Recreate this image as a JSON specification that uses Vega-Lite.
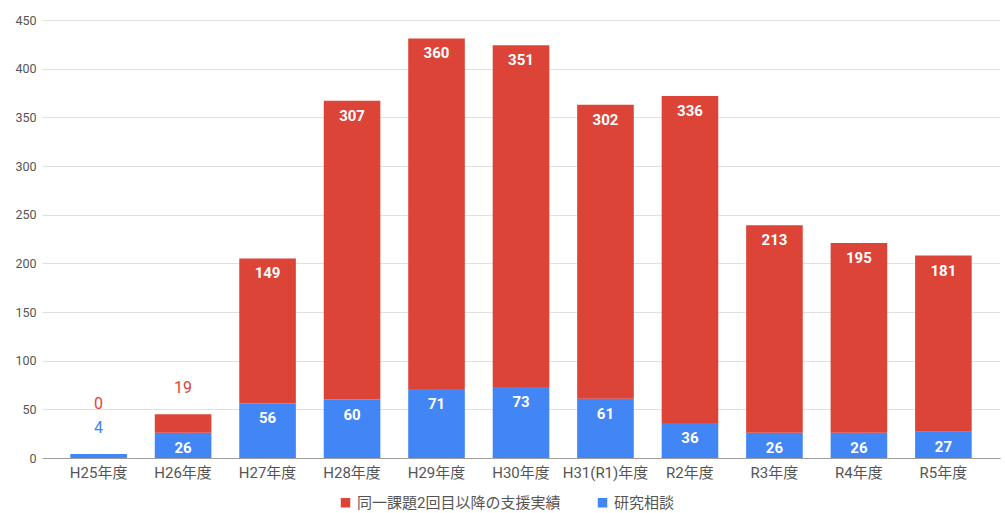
{
  "$schema": "https://vega.github.io/schema/vega-lite/v6.json",
  "width": 958,
  "height": 438,
  "autosize": {"type": "none"},
  "padding": {"left": 42, "top": 20, "right": 5, "bottom": 55},
  "background": "white",
  "config": {
    "font": "Roboto, 'Noto Sans CJK JP', sans-serif",
    "view": {"stroke": null}
  },
  "data": {
    "values": [
      {"year": "H25年度", "series": "研究相談", "value": 4},
      {"year": "H25年度", "series": "同一課題2回目以降の支援実績", "value": 0},
      {"year": "H26年度", "series": "研究相談", "value": 26},
      {"year": "H26年度", "series": "同一課題2回目以降の支援実績", "value": 19},
      {"year": "H27年度", "series": "研究相談", "value": 56},
      {"year": "H27年度", "series": "同一課題2回目以降の支援実績", "value": 149},
      {"year": "H28年度", "series": "研究相談", "value": 60},
      {"year": "H28年度", "series": "同一課題2回目以降の支援実績", "value": 307},
      {"year": "H29年度", "series": "研究相談", "value": 71},
      {"year": "H29年度", "series": "同一課題2回目以降の支援実績", "value": 360},
      {"year": "H30年度", "series": "研究相談", "value": 73},
      {"year": "H30年度", "series": "同一課題2回目以降の支援実績", "value": 351},
      {"year": "H31(R1)年度", "series": "研究相談", "value": 61},
      {"year": "H31(R1)年度", "series": "同一課題2回目以降の支援実績", "value": 302},
      {"year": "R2年度", "series": "研究相談", "value": 36},
      {"year": "R2年度", "series": "同一課題2回目以降の支援実績", "value": 336},
      {"year": "R3年度", "series": "研究相談", "value": 26},
      {"year": "R3年度", "series": "同一課題2回目以降の支援実績", "value": 213},
      {"year": "R4年度", "series": "研究相談", "value": 26},
      {"year": "R4年度", "series": "同一課題2回目以降の支援実績", "value": 195},
      {"year": "R5年度", "series": "研究相談", "value": 27},
      {"year": "R5年度", "series": "同一課題2回目以降の支援実績", "value": 181}
    ]
  },
  "transform": [
    {"stack": "value", "groupby": ["year"], "sort": [{"field": "series", "order": "descending"}], "as": ["v0", "v1"]},
    {"joinaggregate": [{"op": "sum", "field": "value", "as": "total"}], "groupby": ["year"]}
  ],
  "encoding": {
    "x": {
      "field": "year", "type": "nominal", "sort": null,
      "scale": {"paddingInner": 0.33, "paddingOuter": 0.335},
      "axis": {"title": null, "labelAngle": 0, "labelFontSize": 15, "labelColor": "#555555", "ticks": false, "domainColor": "#9e9e9e", "labelPadding": 7}
    }
  },
  "layer": [
    {
      "mark": {"type": "bar"},
      "encoding": {
        "y": {
          "field": "v0", "type": "quantitative",
          "scale": {"domain": [0, 450], "nice": false},
          "axis": {"title": null, "values": [0, 50, 100, 150, 200, 250, 300, 350, 400, 450], "domain": false, "ticks": false, "labelFontSize": 12.5, "labelColor": "#555555", "gridColor": "#e0e0e0", "labelPadding": 6}
        },
        "y2": {"field": "v1"},
        "color": {
          "field": "series", "type": "nominal",
          "scale": {"domain": ["同一課題2回目以降の支援実績", "研究相談"], "range": ["#db4437", "#4285f4"]},
          "legend": {"title": null, "orient": "none", "direction": "horizontal", "legendX": 296, "legendY": 475, "symbolType": "square", "symbolSize": 90, "labelFontSize": 15, "labelColor": "#555555", "labelLimit": 0, "columnPadding": 34, "symbolOpacity": 1}
        }
      }
    },
    {
      "transform": [{"filter": "datum.value >= 20"}],
      "mark": {"type": "text", "color": "white", "fontSize": 15, "fontWeight": "bold", "dy": 15, "baseline": "middle"},
      "encoding": {
        "y": {"field": "v1", "type": "quantitative"},
        "text": {"field": "value", "type": "quantitative"}
      }
    },
    {
      "transform": [{"filter": "datum.value < 20 && (datum.series == '研究相談' || datum.total >= 20)"}],
      "mark": {"type": "text", "fontSize": 16, "dy": -26, "baseline": "middle"},
      "encoding": {
        "y": {"field": "total", "type": "quantitative"},
        "text": {"field": "value", "type": "quantitative"},
        "color": {"field": "series", "type": "nominal", "legend": null}
      }
    },
    {
      "transform": [{"filter": "datum.value < 20 && datum.series != '研究相談' && datum.total < 20"}],
      "mark": {"type": "text", "fontSize": 16, "dy": -50, "baseline": "middle"},
      "encoding": {
        "y": {"field": "total", "type": "quantitative"},
        "text": {"field": "value", "type": "quantitative"},
        "color": {"field": "series", "type": "nominal", "legend": null}
      }
    }
  ]
}
